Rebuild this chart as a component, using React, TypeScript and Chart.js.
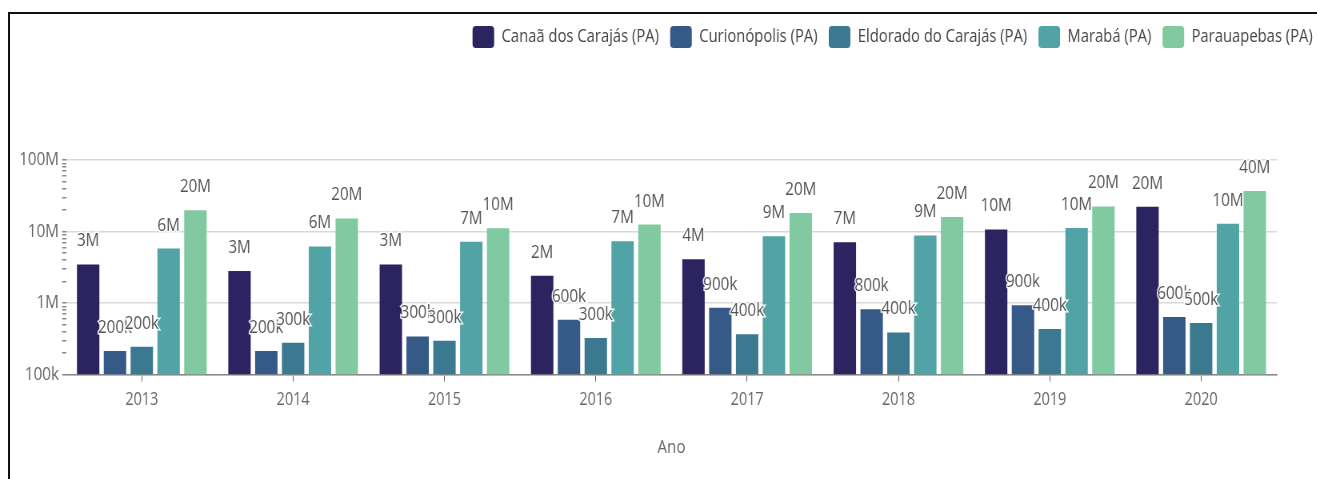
import React, { useEffect, useRef } from "react";
import { Chart, registerables } from "chart.js";

Chart.register(...registerables);

const years = ["2013", "2014", "2015", "2016", "2017", "2018", "2019", "2020"];
const canaa = [3460000, 2800000, 3470000, 2400000, 4100000, 7100000, 10700000, 22200000];
const curionopolis = [213000, 214000, 340000, 586000, 861000, 817000, 930000, 640000];
const eldorado = [245000, 278000, 297000, 324000, 367000, 387000, 435000, 527000];
const maraba = [5770000, 6200000, 7200000, 7300000, 8600000, 8800000, 11200000, 12800000];
const parauapebas = [19900000, 15200000, 11100000, 12500000, 18200000, 16000000, 22400000, 37000000];
const seriesNames = [
  "Canaã dos Carajás (PA)",
  "Curionópolis (PA)",
  "Eldorado do Carajás (PA)",
  "Marabá (PA)",
  "Parauapebas (PA)",
];
const seriesColors = ["#2c2361", "#355a87", "#3b7991", "#52a3a5", "#80c9a1"];
const yDecades = [100000, 1000000, 10000000, 100000000];
const yDecadeLabels = ["100k", "1M", "10M", "100M"];

const FONT = "'Open Sans', 'Noto Sans', sans-serif";
const SQUISH = 0.8;
const W = 1317;
const H = 479;
const IW = Math.round(W / SQUISH);
const LEGEND_PAD = 14;

function fmt(v: number): string {
  const s = Number(v.toPrecision(1));
  if (s >= 1000000) return s / 1000000 + "M";
  return s / 1000 + "k";
}

const dataLabels = {
  id: "dataLabels",
  afterDatasetsDraw(chart: any) {
    const ctx = chart.ctx;
    ctx.save();
    ctx.font = `19px ${FONT}`;
    ctx.textAlign = "center";
    ctx.textBaseline = "bottom";
    chart.data.datasets.forEach((ds: any, di: number) => {
      const meta = chart.getDatasetMeta(di);
      meta.data.forEach((el: any, i: number) => {
        const t = fmt(ds.data[i]);
        ctx.lineWidth = 3;
        ctx.strokeStyle = "rgba(255,255,255,0.9)";
        ctx.strokeText(t, el.x, el.y - 14);
        ctx.fillStyle = "#555";
        ctx.fillText(t, el.x, el.y - 14);
      });
    });
    ctx.restore();
  },
};

const legendSpacer = {
  id: "legendSpacer",
  beforeInit(chart: any) {
    const legend = chart.legend;
    const origFit = legend.fit;
    legend.fit = function () {
      origFit.call(this);
      this.height += 102;
    };
    const origDraw = legend.draw;
    legend.draw = function (...args: any[]) {
      const ctx = this.ctx;
      ctx.save();
      ctx.translate(LEGEND_PAD, 0);
      origDraw.apply(this, args);
      ctx.restore();
    };
  },
};

export default function App() {
  const ref = useRef<HTMLCanvasElement>(null);
  useEffect(() => {
    if (!ref.current) return;
    const data = [canaa, curionopolis, eldorado, maraba, parauapebas];
    const chart = new Chart(ref.current, {
      type: "bar",
      data: {
        labels: years,
        datasets: data.map((d, i) => ({
          label: seriesNames[i],
          data: d,
          backgroundColor: seriesColors[i],
          borderWidth: 0,
          yAxisID: "y",
          categoryPercentage: 0.886,
          barPercentage: 0.836,
        })),
      },
      options: {
        animation: false,
        responsive: false,
        maintainAspectRatio: false,
        layout: { padding: { left: 20, right: 5, top: 12, bottom: 16 } },
        plugins: {
          legend: {
            position: "top",
            align: "end",
            labels: {
              boxWidth: 27,
              boxHeight: 22,
              useBorderRadius: true,
              borderRadius: 4,
              color: "#444",
              font: { family: FONT, size: 18.5 },
              padding: LEGEND_PAD,
            },
          },
          tooltip: { enabled: false },
        },
        scales: {
          x: {
            grid: {
              display: true,
              drawOnChartArea: false,
              offset: false,
              tickLength: 7,
              color: "#666",
            },
            border: { display: true, color: "#888", width: 1.5 },
            ticks: { color: "#666", font: { family: FONT, size: 18 }, padding: 7 },
            title: {
              display: true,
              text: "Ano",
              color: "#666",
              font: { family: FONT, size: 19 },
              padding: { top: 19, bottom: 4 },
            },
          },
          y: {
            type: "logarithmic",
            min: 100000,
            max: 100000000,
            position: "left",
            border: { display: false },
            afterBuildTicks(scale: any) {
              const t: any[] = [];
              for (let d = 0; d < yDecades.length; d++) {
                t.push({ value: yDecades[d] });
                if (d < yDecades.length - 1) {
                  for (let m = 2; m <= 9; m++) t.push({ value: yDecades[d] * m });
                }
              }
              scale.ticks = t;
            },
            grid: {
              tickLength: 5,
              color: (c: any) =>
                c.tick && yDecades.includes(c.tick.value) ? "#d9d9d9" : "rgba(0,0,0,0)",
              tickColor: "#888",
              lineWidth: 1.5,
            },
            ticks: {
              autoSkip: false,
              color: "#666",
              padding: 4,
              font: { family: FONT, size: 19 },
              callback: (v: any) => {
                const idx = yDecades.indexOf(Number(v));
                return idx >= 0 ? yDecadeLabels[idx] : "";
              },
            },
          },
          yR: {
            type: "linear",
            position: "right",
            display: true,
            grid: { display: false },
            border: { display: false },
            ticks: { display: false },
            afterFit(scale: any) {
              scale.width = IW - 5 - 1596;
            },
          },
        },
      },
      plugins: [dataLabels, legendSpacer],
    });
    return () => chart.destroy();
  }, []);
  return (
    <div style={{ position: "absolute", left: 0, top: 0, width: W, height: H, overflow: "hidden", background: "#fff" }}>
      <canvas
        ref={ref}
        width={IW}
        height={H}
        style={{
          position: "absolute",
          left: 0,
          top: 0,
          transform: `scaleX(${SQUISH})`,
          transformOrigin: "0 0",
        }}
      />
      <div
        style={{
          position: "absolute",
          left: 8,
          top: 12,
          width: 1400,
          height: 600,
          borderTop: "2px solid #111",
          borderLeft: "2px solid #111",
          pointerEvents: "none",
        }}
      />
    </div>
  );
}
